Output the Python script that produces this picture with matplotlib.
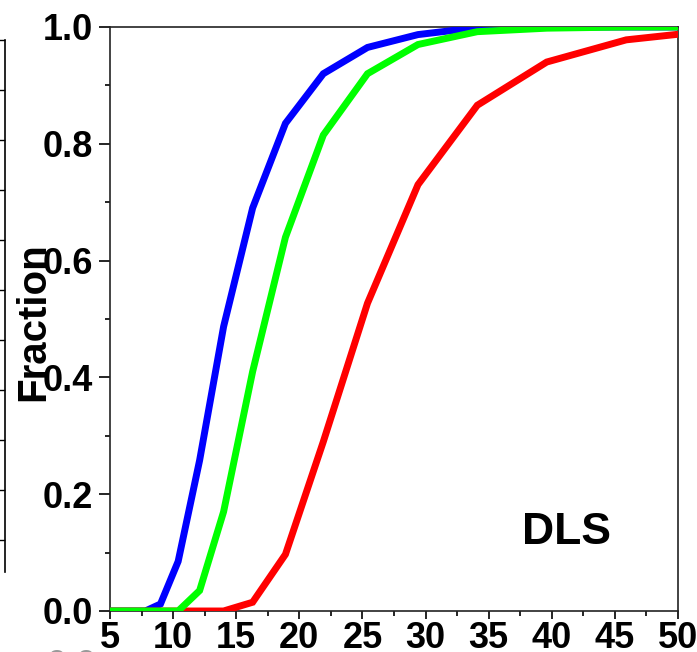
import matplotlib
matplotlib.use("Agg")
import matplotlib.pyplot as plt
import numpy as np

plt.rcParams['font.family'] = ['Liberation Sans', 'DejaVu Sans']

# Data (size bins in nm, cumulative fraction)
size_bins = [5.0, 5.8, 6.7, 7.8, 9.0, 10.4, 12.1, 14.0, 16.3, 18.9, 21.9,
             25.4, 29.4, 34.1, 39.6, 45.9, 53.2]
blue_frac = [0.0, 0.0, 0.0, 0.0, 0.012, 0.085, 0.258, 0.487, 0.69, 0.835,
             0.92, 0.965, 0.987, 0.999, 1.0, 1.0, 1.0]
red_frac = [0.0, 0.0, 0.0, 0.0, 0.0, 0.0, 0.0, 0.0, 0.015, 0.097, 0.29,
            0.527, 0.73, 0.866, 0.94, 0.978, 0.995]
green_frac = [0.0, 0.0, 0.0, 0.0, 0.0, 0.0, 0.035, 0.17, 0.41, 0.64, 0.815,
              0.92, 0.97, 0.992, 0.998, 1.0, 1.0]

x_ticks = [5, 10, 15, 20, 25, 30, 35, 40, 45, 50]
y_ticks = [0.0, 0.2, 0.4, 0.6, 0.8, 1.0]
y_tick_labels = ["0.0", "0.2", "0.4", "0.6", "0.8", "1.0"]

W, H = 697, 652
fig = plt.figure(figsize=(W / 100, H / 100), dpi=100)

# main axes
L, R, T, B = 110, 678, 27, 611
ax = fig.add_axes([L / W, 1 - B / H, (R - L) / W, (B - T) / H])
ax.plot(size_bins, blue_frac, color='#0000ff', lw=5, solid_joinstyle='miter', zorder=3)
ax.plot(size_bins, red_frac, color='#ff0000', lw=5, solid_joinstyle='miter', zorder=4)
ax.plot(size_bins, green_frac, color='#00ff00', lw=5, solid_joinstyle='miter', zorder=5)
ax.set_xlim(5, 50)
ax.set_ylim(0, 1.0)
ax.set_xticks(x_ticks)
ax.set_xticks(np.arange(7.5, 50, 5), minor=True)
ax.set_yticks(y_ticks)
ax.set_yticklabels(y_tick_labels)
ax.set_yticks(np.arange(0.1, 1.0, 0.2), minor=True)
ax.tick_params(axis='x', which='major', direction='out', length=6, width=1.2,
               labelsize=26, pad=1)
ax.tick_params(axis='y', which='major', direction='out', length=8, width=1.2,
               labelsize=26, pad=4)
ax.tick_params(which='minor', direction='out', length=3.5, width=1.2)
for lab in ax.get_xticklabels() + ax.get_yticklabels():
    lab.set_fontweight('bold')
for s in ax.spines.values():
    s.set_linewidth(1.2)
    s.set_color('#222222')
ax.text(0.803, 0.135, "DLS", transform=ax.transAxes, fontsize=32,
        fontweight='bold', ha='center', va='center')

fig.text(33 / W, 1 - 322 / H, "Fraction", rotation=90, fontsize=29,
         fontweight='bold', ha='center', va='center')

# partial neighbouring panel at left edge
ax0 = fig.add_axes([-0.2, 1 - 572 / H, 0.2 + 5 / W, 532 / H])
ax0.set_xlim(0, 1)
ax0.set_ylim(0, 532)
ax0.set_xticks([])
ax0.set_yticks(np.arange(32, 533, 50))
ax0.yaxis.tick_right()
ax0.tick_params(axis='y', direction='in', length=4, width=1.0, labelright=False,
                labelleft=False)
for k in ['left', 'top', 'bottom']:
    ax0.spines[k].set_visible(False)
ax0.spines['right'].set_linewidth(1.2)
ax0.patch.set_alpha(0)

# cut-off label of neighbouring panel at the bottom edge (only its top shows)
fig.text(72 / W, 1 - 649 / H, "0.0", fontsize=26, fontweight='bold',
         ha='center', va='top', color='#999999')

fig.savefig("out.png", dpi=100)
